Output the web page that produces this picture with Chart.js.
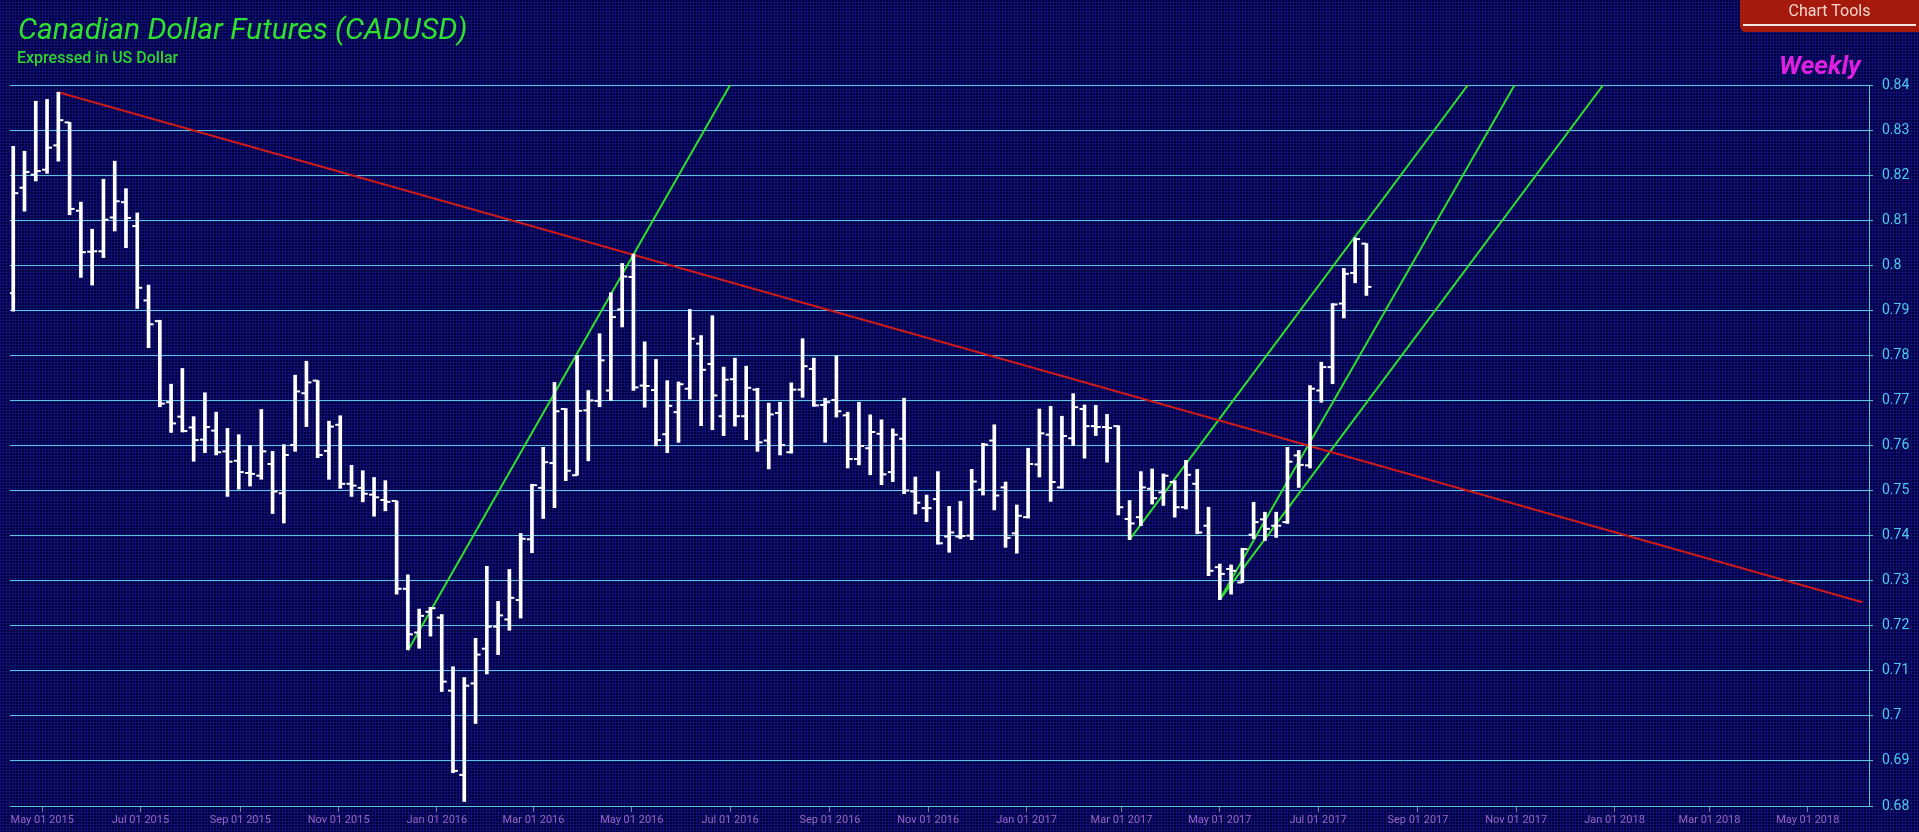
<!DOCTYPE html>
<html>
<head>
<meta charset="utf-8">
<title>Canadian Dollar Futures (CADUSD)</title>
<script src="https://cdn.jsdelivr.net/npm/chart.js@4.4.0/dist/chart.umd.min.js"></script>
<style>
  html, body { margin: 0; padding: 0; }
  body {
    width: 1919px; height: 832px; overflow: hidden; position: relative;
    background-color: #00003e;
    background-image:
      linear-gradient(90deg, rgba(22, 22, 140, 0.6) 1px, transparent 1px),
      linear-gradient(0deg, rgba(22, 22, 140, 0.6) 1px, transparent 1px);
    background-size: 3px 3px;
    font-family: Roboto, "Open Sans", sans-serif;
  }
  canvas { position: absolute; left: 0; top: 0; }
  .title {
    position: absolute; left: 18px; top: 14px; margin: 0;
    font: italic 400 30px/1 Roboto, sans-serif; color: #2fe02f;
    white-space: nowrap;
  }
  .subtitle {
    position: absolute; left: 17px; top: 50px;
    font: 500 16px/1 Roboto, sans-serif; color: #2fd52f;
    white-space: nowrap;
  }
  .tools {
    position: absolute; left: 1740px; top: 0; width: 179px; height: 32px;
    background: #a6190d; border-bottom-left-radius: 6px;
    color: #f5d6cc; font: 400 16px/1 Roboto, sans-serif; text-align: center;
  }
  .tools span { position: absolute; left: 0; right: 0; top: 3px; }
  .tools i { position: absolute; left: 3px; right: 3px; top: 24px; height: 2px; background: #f7e8e2; }
  .weekly {
    position: absolute; left: 1779px; top: 52px;
    font: italic 700 26px/1 Roboto, sans-serif; color: #e01fe0;
    white-space: nowrap;
  }
</style>
</head>
<body>
<canvas id="chart" width="1919" height="832"></canvas>
<div class="title">Canadian Dollar Futures (CADUSD)</div>
<div class="subtitle">Expressed in US Dollar</div>
<div class="tools"><span>Chart Tools</span><i></i></div>
<div class="weekly">Weekly</div>
<script>
// weekly bars (week starting Monday)
var dates = [
  '2015-04-13','2015-04-20','2015-04-27','2015-05-04','2015-05-11','2015-05-18','2015-05-25','2015-06-01',
  '2015-06-08','2015-06-15','2015-06-22','2015-06-29','2015-07-06','2015-07-13','2015-07-20','2015-07-27',
  '2015-08-03','2015-08-10','2015-08-17','2015-08-24','2015-08-31','2015-09-07','2015-09-14','2015-09-21',
  '2015-09-28','2015-10-05','2015-10-12','2015-10-19','2015-10-26','2015-11-02','2015-11-09','2015-11-16',
  '2015-11-23','2015-11-30','2015-12-07','2015-12-14','2015-12-21','2015-12-28','2016-01-04','2016-01-11',
  '2016-01-18','2016-01-25','2016-02-01','2016-02-08','2016-02-15','2016-02-22','2016-02-29','2016-03-07',
  '2016-03-14','2016-03-21','2016-03-28','2016-04-04','2016-04-11','2016-04-18','2016-04-25','2016-05-02',
  '2016-05-09','2016-05-16','2016-05-23','2016-05-30','2016-06-06','2016-06-13','2016-06-20','2016-06-27',
  '2016-07-04','2016-07-11','2016-07-18','2016-07-25','2016-08-01','2016-08-08','2016-08-15','2016-08-22',
  '2016-08-29','2016-09-05','2016-09-12','2016-09-19','2016-09-26','2016-10-03','2016-10-10','2016-10-17',
  '2016-10-24','2016-10-31','2016-11-07','2016-11-14','2016-11-21','2016-11-28','2016-12-05','2016-12-12',
  '2016-12-19','2016-12-26','2017-01-02','2017-01-09','2017-01-16','2017-01-23','2017-01-30','2017-02-06',
  '2017-02-13','2017-02-20','2017-02-27','2017-03-06','2017-03-13','2017-03-20','2017-03-27','2017-04-03',
  '2017-04-10','2017-04-17','2017-04-24','2017-05-01','2017-05-08','2017-05-15','2017-05-22','2017-05-29',
  '2017-06-05','2017-06-12','2017-06-19','2017-06-26','2017-07-03','2017-07-10','2017-07-17','2017-07-24',
  '2017-07-31'
];
var opens = [
  0.7938,0.8172,0.8201,0.8212,0.8266,0.8317,0.8121,0.8030,0.8031,0.8106,0.8140,0.8087,0.7922,0.7876,0.7696,0.7664,
  0.7640,0.7613,0.7633,0.7587,0.7566,0.7539,0.7533,0.7559,0.7494,0.7601,0.7716,0.7744,0.7588,0.7646,0.7515,0.7506,
  0.7491,0.7479,0.7477,0.7282,0.7185,0.7231,0.7218,0.7056,0.6869,0.7072,0.7149,0.7198,0.7214,0.7257,0.7392,0.7506,
  0.7561,0.7681,0.7534,0.7678,0.7699,0.7722,0.7902,0.7974,0.7733,0.7723,0.7625,0.7674,0.7726,0.7826,0.7781,0.7665,
  0.7747,0.7665,0.7724,0.7611,0.7672,0.7585,0.7724,0.7770,0.7690,0.7701,0.7667,0.7570,0.7594,0.7626,0.7541,0.7615,
  0.7498,0.7461,0.7481,0.7398,0.7398,0.7400,0.7502,0.7611,0.7507,0.7405,0.7441,0.7558,0.7624,0.7507,0.7616,0.7681,
  0.7643,0.7641,0.7643,0.7437,0.7441,0.7504,0.7496,0.7519,0.7463,0.7515,0.7422,0.7330,0.7326,0.7296,0.7402,0.7436,
  0.7422,0.7430,0.7578,0.7556,0.7722,0.7774,0.7915,0.7983,0.8048
];
var highs = [
  0.8264,0.8253,0.8364,0.8368,0.8384,0.8317,0.8140,0.8080,0.8191,0.8231,0.8170,0.8116,0.7956,0.7878,0.7736,0.7771,
  0.7664,0.7717,0.7674,0.7638,0.7624,0.7600,0.7680,0.7587,0.7602,0.7756,0.7787,0.7744,0.7654,0.7666,0.7556,0.7544,
  0.7529,0.7522,0.7477,0.7313,0.7237,0.7241,0.7225,0.7109,0.7085,0.7172,0.7332,0.7254,0.7325,0.7405,0.7514,0.7596,
  0.7740,0.7682,0.7800,0.7722,0.7848,0.7939,0.8004,0.8025,0.7830,0.7791,0.7744,0.7741,0.7902,0.7844,0.7888,0.7774,
  0.7794,0.7776,0.7727,0.7694,0.7696,0.7739,0.7837,0.7794,0.7705,0.7799,0.7674,0.7696,0.7668,0.7657,0.7637,0.7705,
  0.7530,0.7490,0.7542,0.7465,0.7476,0.7547,0.7605,0.7646,0.7519,0.7468,0.7594,0.7681,0.7687,0.7665,0.7715,0.7690,
  0.7689,0.7669,0.7644,0.7478,0.7542,0.7548,0.7537,0.7522,0.7567,0.7547,0.7463,0.7337,0.7335,0.7372,0.7474,0.7452,
  0.7452,0.7596,0.7589,0.7733,0.7785,0.7915,0.7993,0.8061,0.8048
];
var lows = [
  0.7898,0.8120,0.8187,0.8204,0.8231,0.8112,0.7973,0.7956,0.8017,0.8076,0.8039,0.7904,0.7817,0.7686,0.7629,0.7630,
  0.7565,0.7584,0.7579,0.7487,0.7503,0.7510,0.7525,0.7449,0.7428,0.7587,0.7642,0.7573,0.7525,0.7505,0.7487,0.7475,
  0.7443,0.7455,0.7270,0.7147,0.7150,0.7177,0.7054,0.6874,0.6810,0.6983,0.7093,0.7136,0.7190,0.7217,0.7362,0.7438,
  0.7462,0.7522,0.7534,0.7566,0.7686,0.7700,0.7863,0.7722,0.7685,0.7599,0.7584,0.7607,0.7703,0.7644,0.7635,0.7622,
  0.7643,0.7613,0.7587,0.7548,0.7579,0.7583,0.7707,0.7687,0.7607,0.7663,0.7550,0.7557,0.7535,0.7513,0.7520,0.7493,
  0.7448,0.7431,0.7381,0.7363,0.7393,0.7391,0.7490,0.7457,0.7374,0.7361,0.7439,0.7530,0.7476,0.7505,0.7600,0.7572,
  0.7622,0.7563,0.7446,0.7391,0.7422,0.7470,0.7467,0.7441,0.7459,0.7404,0.7311,0.7258,0.7270,0.7296,0.7393,0.7389,
  0.7396,0.7427,0.7507,0.7550,0.7696,0.7737,0.7883,0.7961,0.7933
];
var closes = [
  0.8160,0.8207,0.8209,0.8261,0.8322,0.8125,0.8029,0.8031,0.8101,0.8142,0.8105,0.7950,0.7869,0.7693,0.7649,0.7632,
  0.7612,0.7641,0.7585,0.7564,0.7541,0.7537,0.7587,0.7498,0.7579,0.7720,0.7740,0.7579,0.7642,0.7515,0.7511,0.7493,
  0.7485,0.7475,0.7282,0.7181,0.7222,0.7239,0.7076,0.6878,0.7067,0.7136,0.7198,0.7223,0.7262,0.7393,0.7512,0.7563,
  0.7676,0.7544,0.7677,0.7700,0.7789,0.7885,0.7975,0.7729,0.7732,0.7612,0.7688,0.7736,0.7837,0.7768,0.7711,0.7746,
  0.7665,0.7728,0.7607,0.7669,0.7601,0.7724,0.7776,0.7689,0.7696,0.7676,0.7570,0.7599,0.7630,0.7536,0.7624,0.7500,
  0.7473,0.7461,0.7383,0.7407,0.7399,0.7520,0.7602,0.7489,0.7395,0.7444,0.7559,0.7627,0.7519,0.7621,0.7685,0.7643,
  0.7641,0.7639,0.7463,0.7427,0.7507,0.7483,0.7533,0.7463,0.7535,0.7407,0.7322,0.7315,0.7322,0.7370,0.7430,0.7415,
  0.7422,0.7564,0.7557,0.7726,0.7774,0.7913,0.7981,0.8058,0.7952
];

// axis
var tickDates = [
  '2015-05-01','2015-07-01','2015-09-01','2015-11-01','2016-01-01','2016-03-01','2016-05-01','2016-07-01',
  '2016-09-01','2016-11-01','2017-01-01','2017-03-01','2017-05-01','2017-07-01','2017-09-01','2017-11-01',
  '2018-01-01','2018-03-01','2018-05-01'
];
var xStart = '2015-04-11', xEnd = '2018-06-08';
var yMin = 0.68, yMax = 0.84, yStep = 0.01;

// drawn trend lines [date, price]
var redTrend = [['2015-05-11', 0.8384], ['2018-06-04', 0.7252]];
var greenTrends = [
  [['2015-12-14', 0.7145], ['2016-07-01', 0.84]],
  [['2017-03-06', 0.7391], ['2017-10-02', 0.84]],
  [['2017-05-01', 0.7258], ['2017-10-31', 0.84]],
  [['2017-05-01', 0.7258], ['2017-12-25', 0.84]]
];

var months = ['Jan','Feb','Mar','Apr','May','Jun','Jul','Aug','Sep','Oct','Nov','Dec'];
function day(d) { return Date.parse(d) / 86400000; }
function fmtDay(v) {
  var d = new Date(Math.round(v) * 86400000);
  var dd = d.getUTCDate();
  return months[d.getUTCMonth()] + ' ' + (dd < 10 ? '0' + dd : dd) + ' ' + d.getUTCFullYear();
}
function seg(pts) { return pts.map(function(p) { return {x: day(p[0]), y: p[1]}; }); }

var ranges = dates.map(function(d, i) { return {x: day(d), y: [lows[i], highs[i]]}; });
var openPts = dates.map(function(d, i) { return {x: day(d), y: opens[i]}; });
var closePts = dates.map(function(d, i) { return {x: day(d), y: closes[i]}; });

var datasets = [
  { type: 'line', data: seg(redTrend), borderColor: '#cf1a1a', borderWidth: 2, pointRadius: 0, order: 3 }
];
greenTrends.forEach(function(g) {
  datasets.push({ type: 'line', data: seg(g), borderColor: '#2ee02e', borderWidth: 2, pointRadius: 0, order: 3 });
});
datasets.push(
  { type: 'bar', data: ranges, backgroundColor: '#ffffff', borderWidth: 0, barThickness: 3, order: 1 },
  { type: 'line', data: openPts, showLine: false, pointStyle: 'dash', rotation: 180, pointRadius: 5,
    borderColor: '#ffffff', borderWidth: 2, order: 0 },
  { type: 'line', data: closePts, showLine: false, pointStyle: 'dash', rotation: 0, pointRadius: 5,
    borderColor: '#ffffff', borderWidth: 2, order: 0 }
);

var ctx = document.getElementById('chart').getContext('2d');
var chart = new Chart(ctx, {
  type: 'bar',
  data: { datasets: datasets },
  options: {
    responsive: false,
    animation: false,
    events: [],
    layout: { padding: { top: 85, left: 10, right: 0, bottom: 0 } },
    plugins: { legend: { display: false }, tooltip: { enabled: false } },
    scales: {
      x: {
        type: 'linear',
        offset: false,
        min: day(xStart),
        max: day(xEnd),
        afterBuildTicks: function(s) { s.ticks = tickDates.map(function(d) { return {value: day(d)}; }); },
        afterFit: function(s) { s.height = 26; },
        grid: { drawOnChartArea: false, offset: false, color: '#7c7ca0', tickLength: 6 },
        border: { display: false },
        ticks: {
          autoSkip: false, maxRotation: 0, padding: 2,
          color: '#9a64c6', font: { family: 'Roboto', size: 11 },
          callback: function(v) { return fmtDay(v); }
        }
      },
      y: {
        position: 'right',
        min: yMin, max: yMax,
        afterFit: function(s) { s.width = 50; },
        grid: { color: '#5cc6de', lineWidth: 1, tickLength: 4 },
        border: { display: true, color: '#5cc6de', width: 1 },
        ticks: {
          stepSize: yStep, padding: 9,
          color: '#4ecaf2', font: { family: 'Roboto', size: 14 },
          callback: function(v) { return String(+v.toFixed(2)); }
        }
      }
    }
  }
});
</script>
</body>
</html>
